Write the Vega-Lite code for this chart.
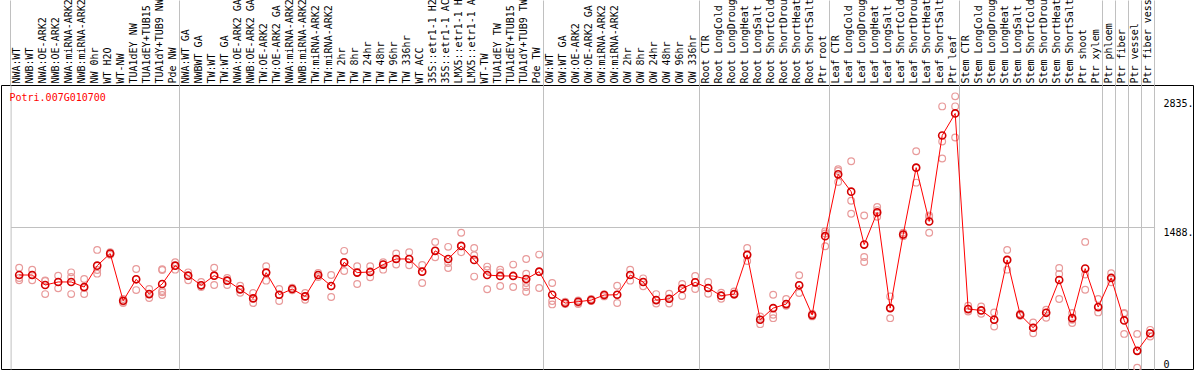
{
  "$schema": "https://vega.github.io/schema/vega-lite/v6.json",
  "width": 1192,
  "height": 284,
  "autosize": {"type": "none"},
  "padding": {"left": 1, "top": 85, "right": 1, "bottom": 1},
  "background": "white",
  "config": {"view": {"stroke": "black", "strokeWidth": 1}, "font": "DejaVu Sans Mono"},
  "data": {"values": [
    {"c": "NWA:WT", "m": 985, "r1": 1062, "r2": 954, "r3": 929},
    {"c": "NWB:WT", "m": 985, "r1": 1041, "r2": 985, "r3": 929},
    {"c": "NWA:OE-ARK2", "m": 880, "r1": 922, "r2": 929, "r3": 785},
    {"c": "NWB:OE-ARK2", "m": 912, "r1": 978, "r2": 912, "r3": 845},
    {"c": "NWA:miRNA-ARK2", "m": 912, "r1": 1013, "r2": 964, "r3": 785},
    {"c": "NWB:miRNA-ARK2", "m": 859, "r1": 943, "r2": 849, "r3": 785},
    {"c": "NW 0hr", "m": 1083, "r1": 1248, "r2": 1038, "r3": 999},
    {"c": "WT H2O", "m": 1210, "r1": 1224, "r2": 1210, "r3": 1196},
    {"c": "WT-NW", "m": 715, "r1": 733, "r2": 705, "r3": 691},
    {"c": "TUA1dEY NW", "m": 940, "r1": 1048, "r2": 940, "r3": 827},
    {"c": "TUA1dEY+TUB15", "m": 785, "r1": 838, "r2": 785, "r3": 743},
    {"c": "TUA1dY+TUB9 NW", "m": 891, "r1": 1045, "r2": 1038, "r3": 817, "r4": 803, "r5": 775},
    {"c": "Pde NW", "m": 1083, "r1": 1118, "r2": 1083, "r3": 1041},
    {"c": "NWA:WT GA", "m": 978, "r1": 1013, "r2": 978, "r3": 929},
    {"c": "NWBWT GA", "m": 877, "r1": 912, "r2": 877, "r3": 859},
    {"c": "TW:WT", "m": 978, "r1": 1062, "r2": 978, "r3": 880},
    {"c": "TW:WT GA", "m": 926, "r1": 954, "r2": 926, "r3": 880},
    {"c": "NWA:OE-ARK2 GA", "m": 835, "r1": 873, "r2": 835, "r3": 799},
    {"c": "NWB:OE-ARK2 GA", "m": 740, "r1": 796, "r2": 740, "r3": 691},
    {"c": "TW:OE-ARK2", "m": 1010, "r1": 1076, "r2": 1010, "r3": 926},
    {"c": "TW:OE-ARK2 GA", "m": 778, "r1": 838, "r2": 778, "r3": 712},
    {"c": "NWA:miRNA-ARK2 ", "m": 838, "r1": 852, "r2": 838, "r3": 824},
    {"c": "NWB:miRNA-ARK2 ", "m": 761, "r1": 796, "r2": 761, "r3": 726},
    {"c": "TW:miRNA-ARK2", "m": 985, "r1": 1006, "r2": 985, "r3": 964},
    {"c": "TW:miRNA-ARK2 ", "m": 870, "r1": 985, "r2": 870, "r3": 754},
    {"c": "TW 2hr", "m": 1118, "r1": 1238, "r2": 1118, "r3": 1027},
    {"c": "TW 8hr", "m": 1010, "r1": 1076, "r2": 1010, "r3": 891},
    {"c": "TW 24hr", "m": 1017, "r1": 1076, "r2": 1017, "r3": 961},
    {"c": "TW 48hr", "m": 1094, "r1": 1118, "r2": 1094, "r3": 1041},
    {"c": "TW 96hr", "m": 1153, "r1": 1210, "r2": 1153, "r3": 1094},
    {"c": "TW 336hr", "m": 1153, "r1": 1224, "r2": 1153, "r3": 1087},
    {"c": "WT ACC", "m": 1020, "r1": 1090, "r2": 1020, "r3": 901},
    {"c": "35S::etr1-1 H2O", "m": 1238, "r1": 1332, "r2": 1238, "r3": 1171},
    {"c": "35S::etr1-1 ACC", "m": 1153, "r1": 1280, "r2": 1111, "r3": 1059},
    {"c": "LMX5::etr1-1 H2O", "m": 1290, "r1": 1427, "r2": 1290, "r3": 1224},
    {"c": "LMX5::etr1-1 ACC", "m": 1143, "r1": 1269, "r2": 1192, "r3": 968},
    {"c": "WT-TW", "m": 985, "r1": 1073, "r2": 1038, "r3": 835},
    {"c": "TUA1dEY TW", "m": 975, "r1": 1041, "r2": 1013, "r3": 870},
    {"c": "TUA1dEY+TUB15 TW", "m": 975, "r1": 1094, "r2": 975, "r3": 859},
    {"c": "TUA1dY+TUB9 TW", "m": 943, "r1": 1153, "r2": 999, "r3": 901, "r4": 859, "r5": 810},
    {"c": "Pde TW", "m": 1020, "r1": 1199, "r2": 1020, "r3": 849},
    {"c": "OW:WT", "m": 778, "r1": 901, "r2": 712, "r3": 677},
    {"c": "OW:WT GA", "m": 691, "r1": 705, "r2": 691, "r3": 680},
    {"c": "OW:OE-ARK2", "m": 705, "r1": 719, "r2": 691, "r3": 680},
    {"c": "OW:OE-ARK2 GA", "m": 722, "r1": 733, "r2": 722, "r3": 712},
    {"c": "OW:miRNA-ARK2", "m": 775, "r1": 785, "r2": 775, "r3": 761},
    {"c": "OW:miRNA-ARK2 ", "m": 778, "r1": 873, "r2": 778, "r3": 691},
    {"c": "OW 2hr", "m": 985, "r1": 1041, "r2": 985, "r3": 926},
    {"c": "OW 8hr", "m": 912, "r1": 950, "r2": 912, "r3": 866},
    {"c": "OW 24hr", "m": 722, "r1": 785, "r2": 722, "r3": 687},
    {"c": "OW 48hr", "m": 736, "r1": 789, "r2": 736, "r3": 687},
    {"c": "OW 96hr", "m": 842, "r1": 891, "r2": 842, "r3": 764},
    {"c": "OW 336hr", "m": 908, "r1": 975, "r2": 908, "r3": 838},
    {"c": "Root CTR", "m": 849, "r1": 912, "r2": 849, "r3": 789},
    {"c": "Root LongCold", "m": 768, "r1": 799, "r2": 768, "r3": 736},
    {"c": "Root LongDrought", "m": 785, "r1": 813, "r2": 785, "r3": 778},
    {"c": "Root LongHeat", "m": 1196, "r1": 1269, "r2": 1196, "r3": 1132},
    {"c": "Root LongSalt", "m": 516, "r1": 551, "r2": 516, "r3": 470},
    {"c": "Root ShortCold", "m": 638, "r1": 778, "r2": 568, "r3": 533},
    {"c": "Root ShortDrought", "m": 680, "r1": 733, "r2": 680, "r3": 663},
    {"c": "Root ShortHeat", "m": 877, "r1": 982, "r2": 877, "r3": 796},
    {"c": "Root ShortSalt", "m": 565, "r1": 579, "r2": 565, "r3": 551},
    {"c": "Ptr root", "m": 1392, "r1": 1444, "r2": 1420, "r3": 1287},
    {"c": "Leaf CTR", "m": 2040, "r1": 2093, "r2": 2075, "r3": 1960},
    {"c": "Leaf LongCold", "m": 1858, "r1": 2177, "r2": 1763, "r3": 1627},
    {"c": "Leaf LongDrought", "m": 1304, "r1": 1609, "r2": 1174, "r3": 1122},
    {"c": "Leaf LongHeat", "m": 1641, "r1": 1697, "r2": 1665, "r3": 1595},
    {"c": "Leaf LongSalt", "m": 638, "r1": 761, "r2": 638, "r3": 533},
    {"c": "Leaf ShortCold", "m": 1409, "r1": 1427, "r2": 1402, "r3": 1392},
    {"c": "Leaf ShortDrought", "m": 2110, "r1": 2282, "r2": 2110, "r3": 1953},
    {"c": "Leaf ShortHeat", "m": 1546, "r1": 1609, "r2": 1592, "r3": 1427},
    {"c": "Leaf ShortSalt", "m": 2447, "r1": 2752, "r2": 2384, "r3": 2205},
    {"c": "Ptr leaf", "m": 2678, "r1": 2857, "r2": 2752, "r3": 2426},
    {"c": "Stem CTR", "m": 628, "r1": 663, "r2": 628, "r3": 603},
    {"c": "Stem LongCold", "m": 614, "r1": 656, "r2": 614, "r3": 579},
    {"c": "Stem LongDrought", "m": 516, "r1": 593, "r2": 516, "r3": 446},
    {"c": "Stem LongHeat", "m": 1143, "r1": 1248, "r2": 1143, "r3": 1041},
    {"c": "Stem LongSalt", "m": 568, "r1": 579, "r2": 568, "r3": 558},
    {"c": "Stem ShortCold", "m": 432, "r1": 488, "r2": 432, "r3": 375},
    {"c": "Stem ShortDrought", "m": 589, "r1": 621, "r2": 589, "r3": 537},
    {"c": "Stem ShortHeat", "m": 933, "r1": 1059, "r2": 996, "r3": 733},
    {"c": "Stem ShortSalt", "m": 533, "r1": 586, "r2": 516, "r3": 481},
    {"c": "Ptr shoot", "m": 1052, "r1": 1332, "r2": 989, "r3": 831},
    {"c": "Ptr xylem", "m": 649, "r1": 733, "r2": 649, "r3": 593},
    {"c": "Ptr phloem", "m": 954, "r1": 1003, "r2": 954, "r3": 908},
    {"c": "Ptr fiber", "m": 509, "r1": 579, "r2": 586, "r3": 368},
    {"c": "Ptr vessel", "m": 190, "r1": 368, "r2": 190, "r3": 14},
    {"c": "Ptr fiber vessel", "m": 375, "r1": 410, "r2": 375, "r3": 340}
  ]},
  "encoding": {
    "y": {
      "field": "m", "type": "quantitative",
      "scale": {"domain": [0, 2976], "nice": false},
      "axis": {
        "orient": "left", "offset": -9.6, "values": [0, 1488, 2835],
        "domain": true, "domainColor": "#c0c0c0", "domainWidth": 1, "ticks": false,
        "labelExpr": "datum.value == 0 ? '0' : format(datum.value, 'd') + '.'",
        "labelAlign": "left", "labelPadding": -1152.4,
        "labelBaseline": {"condition": {"test": "datum.value == 0", "value": "bottom"}, "value": "top"},
        "labelFont": "DejaVu Sans Mono", "labelFontSize": 10, "labelColor": "black",
        "labelFlush": false, "labelBound": false, "labelOverlap": false,
        "grid": true, "gridColor": "#c0c0c0", "gridWidth": 1,
        "gridOpacity": {"condition": {"test": "datum.value == 1488", "value": 1}, "value": 0},
        "title": "Potri.007G010700", "titleAngle": 0, "titleAlign": "left", "titleBaseline": "alphabetic",
        "titleX": -1.6, "titleY": 15, "titleColor": "#ff0000", "titleFont": "DejaVu Sans Mono",
        "titleFontSize": 10, "titleFontWeight": "normal"
      }
    }
  },
  "resolve": {"axis": {"x": "independent"}},
  "layer": [
    {
      "transform": [
        {"fold": ["r1", "r2", "r3", "r4", "r5"], "as": ["rep", "m"]},
        {"filter": "isValid(datum.m)"}
      ],
      "mark": {"type": "point", "shape": "circle", "filled": false, "stroke": "#e89a9a", "strokeWidth": 1.2, "size": 45, "opacity": 1},
      "encoding": {
        "x": {"field": "c", "type": "nominal", "sort": null, "bandPosition": 0.66,
          "scale": {"type": "band", "paddingInner": 0, "paddingOuter": 0, "range": [9.6, 1153.6]},
          "axis": null}
      }
    },
    {
      "mark": {"type": "line", "color": "#ff0000", "strokeWidth": 1},
      "encoding": {
        "order": {"value": null},
        "x": {"field": "c", "type": "nominal", "sort": null, "bandPosition": 0.66,
          "scale": {"type": "band", "paddingInner": 0, "paddingOuter": 0, "range": [9.6, 1153.6]},
          "axis": {
            "orient": "bottom", "offset": -284, "title": null, "values": ["NWA:WT"],
            "bandPosition": 0, "tickExtra": false, "labels": false, "domain": false,
            "ticks": true, "tickSize": -85, "tickColor": "#c0c0c0", "tickWidth": 1,
            "grid": false
          }}
      }
    },
    {
      "mark": {"type": "point", "shape": "circle", "filled": false, "stroke": "#d40000", "strokeWidth": 1.6, "size": 50, "opacity": 1},
      "encoding": {
        "x": {"field": "c", "type": "nominal", "sort": null, "bandPosition": 0.66,
          "scale": {"type": "band", "paddingInner": 0, "paddingOuter": 0, "range": [9.6, 1153.6]},
          "axis": {
            "orient": "top", "title": null, "domain": false,
            "labelAngle": 270, "labelAlign": "left", "labelBaseline": "middle",
            "labelFont": "DejaVu Sans Mono", "labelFontSize": 10, "labelColor": "black",
            "labelPadding": -83, "labelLimit": 1000, "labelOverlap": false, "labelBound": false, "labelFlush": false,
            "bandPosition": 1, "tickExtra": false,
            "tickSize": 85, "tickColor": "#c0c0c0", "tickWidth": 1,
            "tickOpacity": {"condition": {"test": "indexof(['Pde NW','Pde TW','OW 336hr','Ptr root','Ptr leaf','Ptr xylem','Ptr phloem','Ptr fiber','Ptr vessel','Ptr fiber vessel'], datum.value) >= 0", "value": 1}, "value": 0},
            "grid": true, "gridColor": "#c0c0c0", "gridWidth": 1,
            "gridOpacity": {"condition": {"test": "indexof(['Pde NW','Pde TW','OW 336hr','Ptr root','Ptr leaf','Ptr xylem','Ptr phloem','Ptr fiber','Ptr vessel','Ptr fiber vessel'], datum.value) >= 0", "value": 1}, "value": 0}
          }}
      }
    }
  ]
}
